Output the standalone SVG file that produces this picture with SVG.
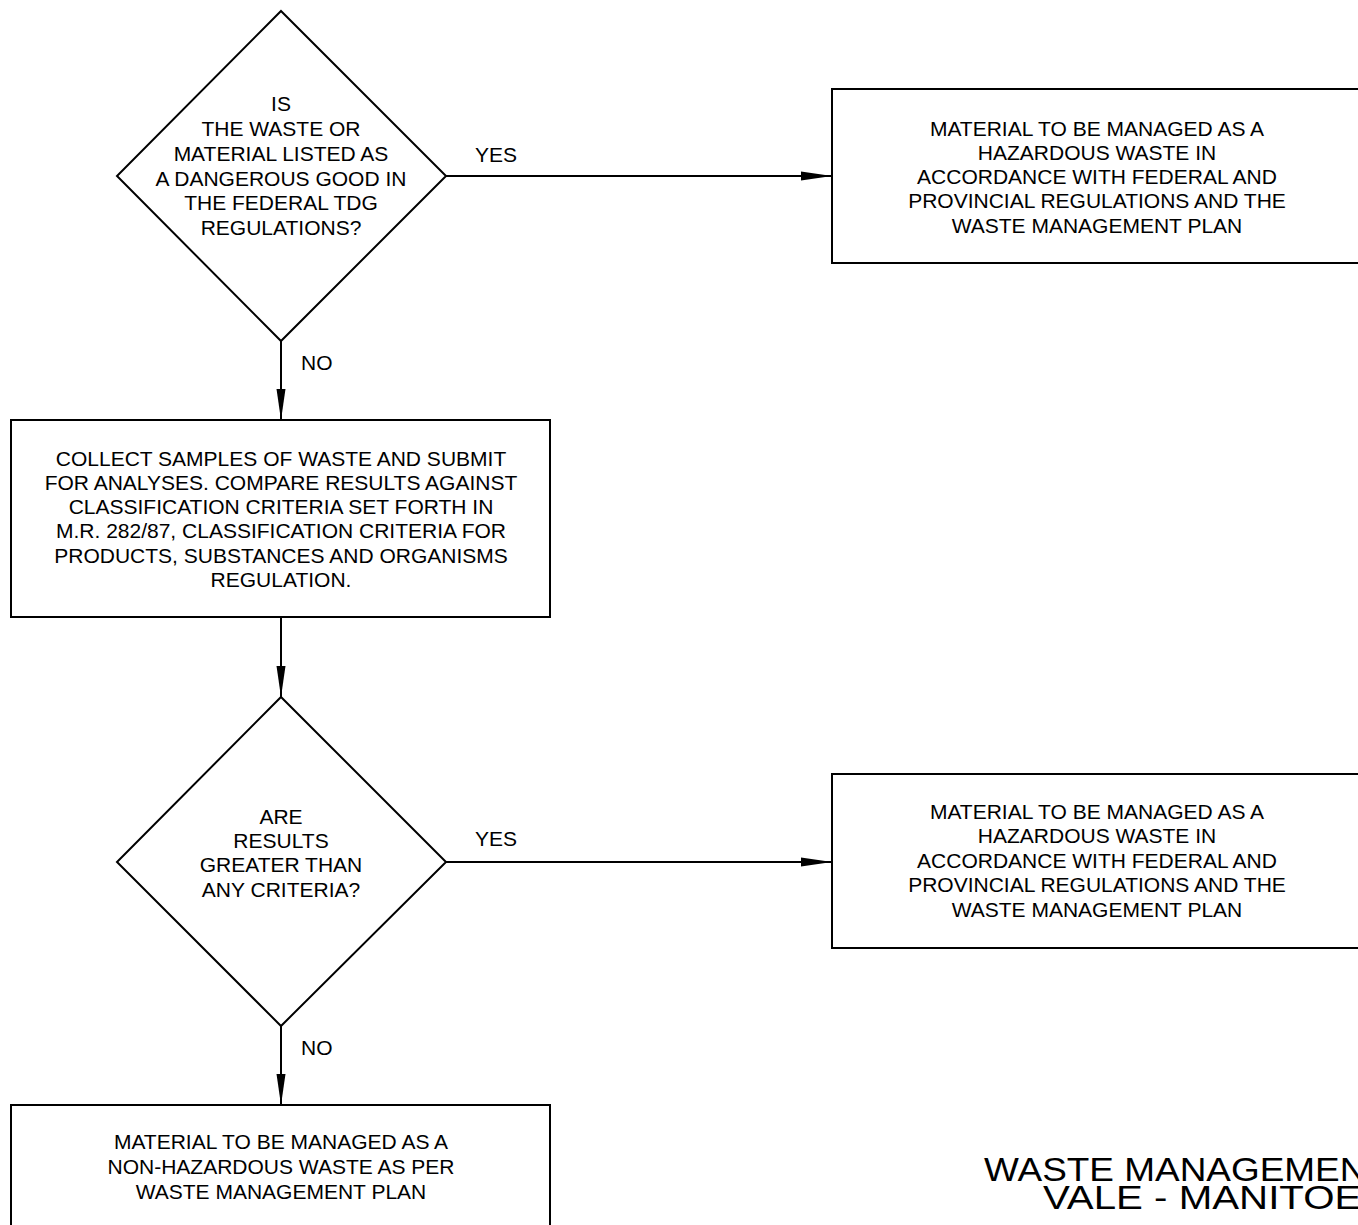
<svg xmlns="http://www.w3.org/2000/svg" width="1358" height="1225" viewBox="0 0 1358 1225">
  <defs>
    <style>
      .shape { fill: #fff; stroke: #000; stroke-width: 2; }
      .wire { fill: none; stroke: #000; stroke-width: 2; }
      .txt { font-family: "Liberation Sans", Arial, sans-serif; font-size: 21px; fill: #000; text-anchor: middle; }
      .lbl { font-family: "Liberation Sans", Arial, sans-serif; font-size: 21px; fill: #000; }
      .title { font-family: "Liberation Sans", Arial, sans-serif; font-size: 33px; fill: #000; }
    </style>
    <marker id="arrow" markerUnits="userSpaceOnUse" markerWidth="32" markerHeight="12" refX="31" refY="5" orient="auto">
      <path d="M0,0.5 L31,5 L0,9.5 Z" fill="#000"/>
    </marker>
  </defs>
  <rect width="1358" height="1225" fill="#fff"/>

  <!-- connectors -->
  <g id="connectors">
    <line class="wire" x1="446" y1="176" x2="832" y2="176" marker-end="url(#arrow)"/>
    <line class="wire" x1="281" y1="341" x2="281" y2="420" marker-end="url(#arrow)"/>
    <line class="wire" x1="281" y1="617" x2="281" y2="697" marker-end="url(#arrow)"/>
    <line class="wire" x1="446" y1="862" x2="832" y2="862" marker-end="url(#arrow)"/>
    <line class="wire" x1="281" y1="1026" x2="281" y2="1105" marker-end="url(#arrow)"/>
    <text class="lbl" x="475" y="162">YES</text>
    <text class="lbl" x="301" y="370">NO</text>
    <text class="lbl" x="475" y="846">YES</text>
    <text class="lbl" x="301" y="1055">NO</text>
  </g>

  <!-- decision: listed as dangerous good -->
  <g id="decision-tdg">
    <polygon class="shape" points="281,11 446,176 281,341 117,176"/>
    <text class="txt" x="281" y="111">IS</text>
    <text class="txt" x="281" y="136">THE WASTE OR</text>
    <text class="txt" x="281" y="161">MATERIAL LISTED AS</text>
    <text class="txt" x="281" y="186">A DANGEROUS GOOD IN</text>
    <text class="txt" x="281" y="210">THE FEDERAL TDG</text>
    <text class="txt" x="281" y="235">REGULATIONS?</text>
  </g>

  <!-- hazardous outcome (top) -->
  <g id="hazardous-1">
    <rect class="shape" x="832" y="89" width="540" height="174"/>
    <text class="txt" x="1097" y="136">MATERIAL TO BE MANAGED AS A</text>
    <text class="txt" x="1097" y="160">HAZARDOUS WASTE IN</text>
    <text class="txt" x="1097" y="184">ACCORDANCE WITH FEDERAL AND</text>
    <text class="txt" x="1097" y="208">PROVINCIAL REGULATIONS AND THE</text>
    <text class="txt" x="1097" y="233">WASTE MANAGEMENT PLAN</text>
  </g>

  <!-- sampling step -->
  <g id="collect-samples">
    <rect class="shape" x="11" y="420" width="539" height="197"/>
    <text class="txt" x="281" y="466">COLLECT SAMPLES OF WASTE AND SUBMIT</text>
    <text class="txt" x="281" y="490">FOR ANALYSES. COMPARE RESULTS AGAINST</text>
    <text class="txt" x="281" y="514">CLASSIFICATION CRITERIA SET FORTH IN</text>
    <text class="txt" x="281" y="538">M.R. 282/87, CLASSIFICATION CRITERIA FOR</text>
    <text class="txt" x="281" y="563">PRODUCTS, SUBSTANCES AND ORGANISMS</text>
    <text class="txt" x="281" y="587">REGULATION.</text>
  </g>

  <!-- decision: results vs criteria -->
  <g id="decision-criteria">
    <polygon class="shape" points="281,697 446,862 281,1026 117,862"/>
    <text class="txt" x="281" y="824">ARE</text>
    <text class="txt" x="281" y="848">RESULTS</text>
    <text class="txt" x="281" y="872">GREATER THAN</text>
    <text class="txt" x="281" y="897">ANY CRITERIA?</text>
  </g>

  <!-- hazardous outcome (lower) -->
  <g id="hazardous-2">
    <rect class="shape" x="832" y="774" width="540" height="174"/>
    <text class="txt" x="1097" y="819">MATERIAL TO BE MANAGED AS A</text>
    <text class="txt" x="1097" y="843">HAZARDOUS WASTE IN</text>
    <text class="txt" x="1097" y="868">ACCORDANCE WITH FEDERAL AND</text>
    <text class="txt" x="1097" y="892">PROVINCIAL REGULATIONS AND THE</text>
    <text class="txt" x="1097" y="917">WASTE MANAGEMENT PLAN</text>
  </g>

  <!-- non-hazardous outcome -->
  <g id="non-hazardous">
    <rect class="shape" x="11" y="1105" width="539" height="140"/>
    <text class="txt" x="281" y="1149">MATERIAL TO BE MANAGED AS A</text>
    <text class="txt" x="281" y="1174">NON-HAZARDOUS WASTE AS PER</text>
    <text class="txt" x="281" y="1199">WASTE MANAGEMENT PLAN</text>
  </g>

  <!-- title block (slightly widened drafting text) -->
  <g id="title">
    <g transform="translate(984,0) scale(1.12,1)"><text class="title" x="0" y="1181">WASTE MANAGEMEN</text></g>
    <g transform="translate(1043,0) scale(1.22,1)"><text class="title" x="0" y="1209">VALE - MANITOE</text></g>
  </g>
</svg>
